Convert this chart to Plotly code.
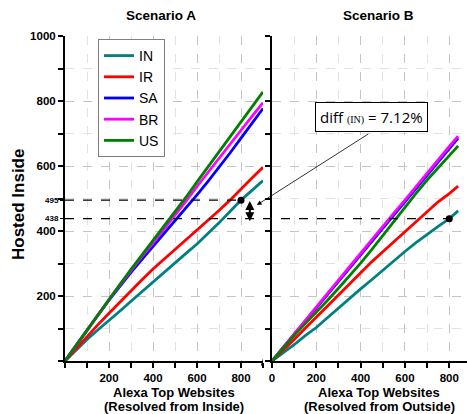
import plotly.graph_objects as go

# ---- data -------------------------------------------------------------
countries = ["IN", "IR", "SA", "BR", "US"]
colors = {"IN": "#008080", "IR": "#ff0000", "SA": "#0000ff", "BR": "#ff00ff", "US": "#008000"}

# Scenario A: resolved from inside
x_a = [0, 50, 100, 150, 200, 250, 300, 350, 400, 450, 500, 550, 600, 650, 700, 750, 800, 850, 900]
in_a = [0, 34, 66, 96, 124, 154, 184, 214, 243, 272, 302, 331, 360, 392, 425, 460, 495, 525, 555]
ir_a = [0, 38, 76, 112, 147, 182, 216, 250, 283, 313, 342, 371, 400, 432, 463, 495, 530, 563, 596]
sa_a = [0, 48, 95, 141, 187, 231, 273, 313, 352, 392, 430, 470, 511, 553, 596, 640, 686, 731, 777]
br_a = [0, 48, 96, 142, 189, 234, 279, 322, 363, 405, 448, 492, 537, 581, 624, 667, 710, 753, 795]
us_a = [0, 48, 96, 143, 190, 236, 282, 326, 370, 413, 458, 504, 551, 597, 643, 690, 736, 782, 828]

# Scenario B: resolved from outside
x_b = [0, 50, 100, 150, 200, 250, 300, 350, 400, 450, 500, 550, 600, 650, 700, 750, 800, 840]
in_b = [0, 25, 50, 78, 103, 133, 163, 194, 222, 250, 280, 309, 337, 364, 390, 414, 438, 462]
ir_b = [0, 32, 66, 101, 135, 170, 205, 240, 272, 305, 336, 367, 398, 430, 460, 490, 515, 538]
sa_b = [0, 41, 82, 123, 163, 204, 245, 286, 328, 369, 410, 451, 491, 532, 573, 614, 654, 686]
br_b = [0, 42, 84, 126, 166, 207, 249, 290, 332, 373, 414, 455, 495, 537, 578, 619, 660, 692]
us_b = [0, 40, 79, 115, 150, 186, 224, 262, 301, 343, 387, 431, 474, 516, 557, 594, 630, 662]

series_a = {"IN": in_a, "IR": ir_a, "SA": sa_a, "BR": br_a, "US": us_a}
series_b = {"IN": in_b, "IR": ir_b, "SA": sa_b, "BR": br_b, "US": us_b}

# highlighted IN values at 800 websites
mark_x = 800
in_a_mark = 495
in_b_mark = 438

y_ticks = [200, 400, 600, 800, 1000]
xa_ticks = [200, 400, 600, 800]
xb_ticks = [0, 200, 400, 600, 800]

# ---- layout geometry ----------------------------------------------------
W, H = 467, 414
ML, MR, MT, MB = 65, 0, 36, 53
PW = W - ML - MR
PH = H - MT - MB
dom_a = [0.0, 198 / PW]
dom_b = [207 / PW, 1.0]
range_a = [0, 900]
range_b = [0, 880]


def px_x(p):
    """pixel column -> paper x"""
    return (p - ML) / PW


def px_y(p):
    """pixel row -> paper y"""
    return (H - MB - p) / PH


def paper_x_b(v):
    """Scenario B data x value -> paper x"""
    return dom_b[0] + (v - range_b[0]) / (range_b[1] - range_b[0]) * (dom_b[1] - dom_b[0])


fig = go.Figure()

for c in countries:
    fig.add_trace(go.Scatter(x=x_a, y=series_a[c], mode="lines", name=c,
                             line=dict(color=colors[c], width=2.8),
                             legendgroup=c, xaxis="x", yaxis="y"))
for c in countries:
    fig.add_trace(go.Scatter(x=x_b, y=series_b[c], mode="lines", name=c,
                             line=dict(color=colors[c], width=2.8),
                             legendgroup=c, showlegend=False, xaxis="x2", yaxis="y2"))

# dots on the IN curves (left one lives on the overlay axis carrying the 438/495 ticks)
fig.add_trace(go.Scatter(x=[mark_x], y=[in_a_mark], mode="markers", showlegend=False,
                         marker=dict(color="black", size=7), xaxis="x", yaxis="y3"))
fig.add_trace(go.Scatter(x=[mark_x], y=[in_b_mark], mode="markers", showlegend=False,
                         marker=dict(color="black", size=7), xaxis="x2", yaxis="y2"))

bold = dict(family="Arial", size=11.5, color="black", weight="bold")
grid_major = dict(showgrid=True, gridcolor="#c4c4c4", griddash="dash", gridwidth=1)
minor = dict(dtick=100, tick0=0, ticks="outside", ticklen=5, tickwidth=1.5, tickcolor="black",
             showgrid=True, gridcolor="#e2e2e2", griddash="dash", gridwidth=1)

axis_common = dict(showline=True, linecolor="black", linewidth=2, ticks="outside", ticklen=5,
                   tickwidth=1.5, tickcolor="black", zeroline=False, tickfont=bold,
                   minor=minor, **grid_major)

fig.update_layout(
    width=W, height=H,
    margin=dict(l=ML, r=MR, t=MT, b=MB),
    paper_bgcolor="white", plot_bgcolor="white",
    xaxis=dict(domain=dom_a, range=range_a, anchor="y", tickvals=xa_ticks, **axis_common),
    yaxis=dict(domain=[0, 1], range=[0, 1000], anchor="x", tickvals=y_ticks, **axis_common),
    xaxis2=dict(domain=dom_b, range=range_b, anchor="y2", tickvals=xb_ticks, **axis_common),
    yaxis2=dict(domain=[0, 1], range=[0, 1000], anchor="x2", tickvals=y_ticks,
                showticklabels=False, **axis_common),
    yaxis3=dict(overlaying="y", anchor="x", side="left", range=[0, 1000],
                tickvals=[in_b_mark, in_a_mark], ticks="outside", ticklen=4, tickwidth=1,
                tickcolor="black", showgrid=False, showline=False, zeroline=False,
                tickfont=dict(family="Arial", size=8, color="black", weight="bold")),
    legend=dict(x=px_x(98), y=px_y(39), xanchor="left", yanchor="top",
                bordercolor="#808080", borderwidth=1, bgcolor="white",
                font=dict(family="Arial", size=14, color="black"),
                tracegroupgap=0, itemwidth=30),
    showlegend=True,
)

# dashed reference lines at the two IN values
fig.add_shape(type="line", xref="x", yref="y", x0=0, x1=mark_x, y0=in_a_mark, y1=in_a_mark,
              line=dict(color="black", width=1.2, dash="dash"))
fig.add_shape(type="line", xref="paper", yref="y", x0=0, x1=paper_x_b(mark_x),
              y0=in_b_mark, y1=in_b_mark, line=dict(color="black", width=1.2, dash="dash"))

# axis break mark at the end of the Scenario A x axis
fig.add_shape(type="line", xref="x", yref="paper", x0=range_a[1] - 6, x1=range_a[1] + 6,
              y0=-0.014, y1=0.014, line=dict(color="black", width=1.5))

# double arrow between the two IN values
fig.add_annotation(xref="x", yref="y", x=840, y=in_b_mark - 8, axref="x", ayref="y",
                   ax=840, ay=in_a_mark + 2, text="", showarrow=True, arrowside="end+start",
                   arrowhead=2, startarrowhead=2, arrowsize=0.9, startarrowsize=0.9,
                   arrowwidth=2, arrowcolor="black")

# callout box with pointer
fig.add_annotation(xref="paper", yref="paper", x=px_x(371), y=px_y(117),
                   xanchor="center", yanchor="middle",
                   text="diff <span style='font-size:10px;font-family:Liberation Serif'>(IN)</span> = 7.12%",
                   showarrow=False, font=dict(family="Open Sans", size=15, color="black"),
                   bordercolor="black", borderwidth=1, borderpad=4, bgcolor="white")
fig.add_annotation(xref="x", yref="y", x=872, y=480, ax=113, ay=-72, text="",
                   showarrow=True, arrowhead=2, arrowsize=1.2, arrowwidth=0.8, arrowcolor="black")

# panel titles
title_font = dict(family="Arial", size=13.5, color="black", weight="bold")
fig.add_annotation(xref="paper", yref="paper", x=px_x(161), y=px_y(15),
                   xanchor="center", yanchor="middle",
                   text="Scenario A", showarrow=False, font=title_font)
fig.add_annotation(xref="paper", yref="paper", x=px_x(378), y=px_y(15),
                   xanchor="center", yanchor="middle",
                   text="Scenario B", showarrow=False, font=title_font)

# axis titles (two lines each, set as separate rows for tight spacing)
xt_font = dict(family="Arial", size=13, color="black", weight="bold")
x_titles = [
    (174, ["Alexa Top Websites", "(Resolved from Inside)"]),
    (379, ["Alexa Top Websites", "(Resolved from Outside)"]),
]
for cx, rows in x_titles:
    for row_y, row_text in zip([392, 406], rows):
        fig.add_annotation(xref="paper", yref="paper", x=px_x(cx), y=px_y(row_y),
                           xanchor="center", yanchor="middle", text=row_text,
                           showarrow=False, font=xt_font)

fig.add_annotation(xref="paper", yref="paper", x=px_x(18), y=px_y(205), textangle=-90,
                   xanchor="center", yanchor="middle",
                   text="Hosted Inside", showarrow=False,
                   font=dict(family="Arial", size=17, color="black", weight="bold"))

fig.write_html("out.html")
